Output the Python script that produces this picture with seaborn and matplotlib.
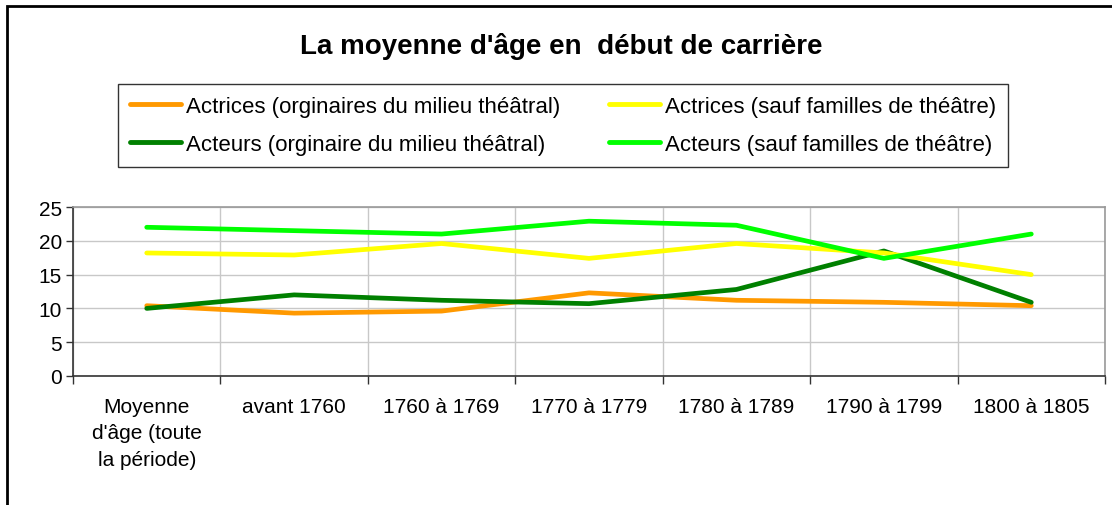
# plot.py — Moyenne d'âge en début de carrière (acteurs / actrices)
import matplotlib
matplotlib.use("Agg")
import matplotlib.pyplot as plt
from matplotlib.patches import Rectangle
from matplotlib.ticker import FixedLocator, NullFormatter
import pandas as pd
import seaborn as sns

CATEGORIES = ["Moyenne\nd'âge (toute\nla période)", "avant 1760", "1760 à 1769",
              "1770 à 1779", "1780 à 1789", "1790 à 1799", "1800 à 1805"]

ACTRICES_MILIEU = [10.4, 9.3, 9.6, 12.3, 11.2, 10.9, 10.4]
ACTEURS_MILIEU  = [10.0, 12.0, 11.2, 10.7, 12.8, 18.5, 10.9]
ACTRICES_SAUF   = [18.2, 17.9, 19.6, 17.4, 19.6, 18.2, 15.0]
ACTEURS_SAUF    = [22.0, 21.5, 21.0, 22.9, 22.3, 17.4, 21.0]

SERIES = {
    "Actrices (orginaires du milieu théâtral)": ACTRICES_MILIEU,
    "Acteurs (orginaire du milieu théâtral)": ACTEURS_MILIEU,
    "Actrices (sauf familles de théâtre)": ACTRICES_SAUF,
    "Acteurs (sauf familles de théâtre)": ACTEURS_SAUF,
}
COLORS = ["#FF9900", "#008000", "#FFFF00", "#00FF00"]

Y_TICKS = [0, 5, 10, 15, 20, 25]

rows = []
for name, vals in SERIES.items():
    for cat, v in zip(CATEGORIES, vals):
        rows.append({"periode": cat, "age": v, "serie": name})
df = pd.DataFrame(rows)

sns.set_theme(style="white")
plt.rcParams["font.family"] = ["Liberation Sans", "DejaVu Sans"]
plt.rcParams["text.color"] = "black"
plt.rcParams["xtick.color"] = "black"
plt.rcParams["ytick.color"] = "black"

fig = plt.figure(figsize=(11.12, 5.06), dpi=100)
ax = fig.add_axes([73 / 1112, 1 - 377 / 506, 1032 / 1112, 169 / 506])

sns.lineplot(data=df, x="periode", y="age", hue="serie",
             palette=dict(zip(SERIES.keys(), COLORS)), sort=False,
             linewidth=3.4, ax=ax, legend=True)

n = len(CATEGORIES)
ax.set_xlim(-0.5, n - 0.5)
ax.set_ylim(0, 25)
ax.set_yticks(Y_TICKS)
ax.set_xticks(range(n))
ax.set_xticklabels(CATEGORIES, fontsize=15, linespacing=1.5)
ax.tick_params(axis="x", which="major", length=0, pad=15)
ax.xaxis.set_minor_locator(FixedLocator([i - 0.5 for i in range(n + 1)]))
ax.xaxis.set_minor_formatter(NullFormatter())
ax.tick_params(axis="x", which="minor", length=6, width=1, color="#333333",
               direction="out", bottom=True)
ax.tick_params(axis="y", labelsize=15, length=5, width=1, color="#333333",
               direction="out", left=True, pad=3)
ax.set_xlabel("")
ax.set_ylabel("")

ax.grid(axis="y", color="#c8c8c8", lw=1)
ax.grid(axis="x", which="minor", color="#c8c8c8", lw=1)
ax.set_axisbelow(True)
for side in ["top", "right"]:
    ax.spines[side].set_color("#999999")
    ax.spines[side].set_linewidth(1.2)
for side in ["left", "bottom"]:
    ax.spines[side].set_color("#333333")
    ax.spines[side].set_linewidth(1.2)

handles, labels = ax.get_legend_handles_labels()
ax.get_legend().remove()
leg = fig.legend(handles, labels, loc="center", ncol=2, fontsize=16,
                 bbox_to_anchor=(118 / 1112, 1 - 168 / 506, 890 / 1112, 83 / 506),
                 mode="expand", frameon=True, fancybox=False, handlelength=2.3,
                 handletextpad=0.2, borderaxespad=0, labelspacing=0.75,
                 borderpad=0.55, columnspacing=0.5)
leg.get_frame().set_edgecolor("black")
leg.get_frame().set_linewidth(1)
for h in leg.get_lines():
    h.set_linewidth(3.5)

fig.text(0.505, 1 - 46 / 506, "La moyenne d'âge en  début de carrière",
         ha="center", va="center", fontsize=20, fontweight="bold")

fig.add_artist(Rectangle((7 / 1112, -0.2), 1.2, 1.2 + 1 - 7 / 506 - 1,
                         fill=False, lw=2, edgecolor="black",
                         transform=fig.transFigure, clip_on=False))

fig.savefig("out.png", dpi=100)
